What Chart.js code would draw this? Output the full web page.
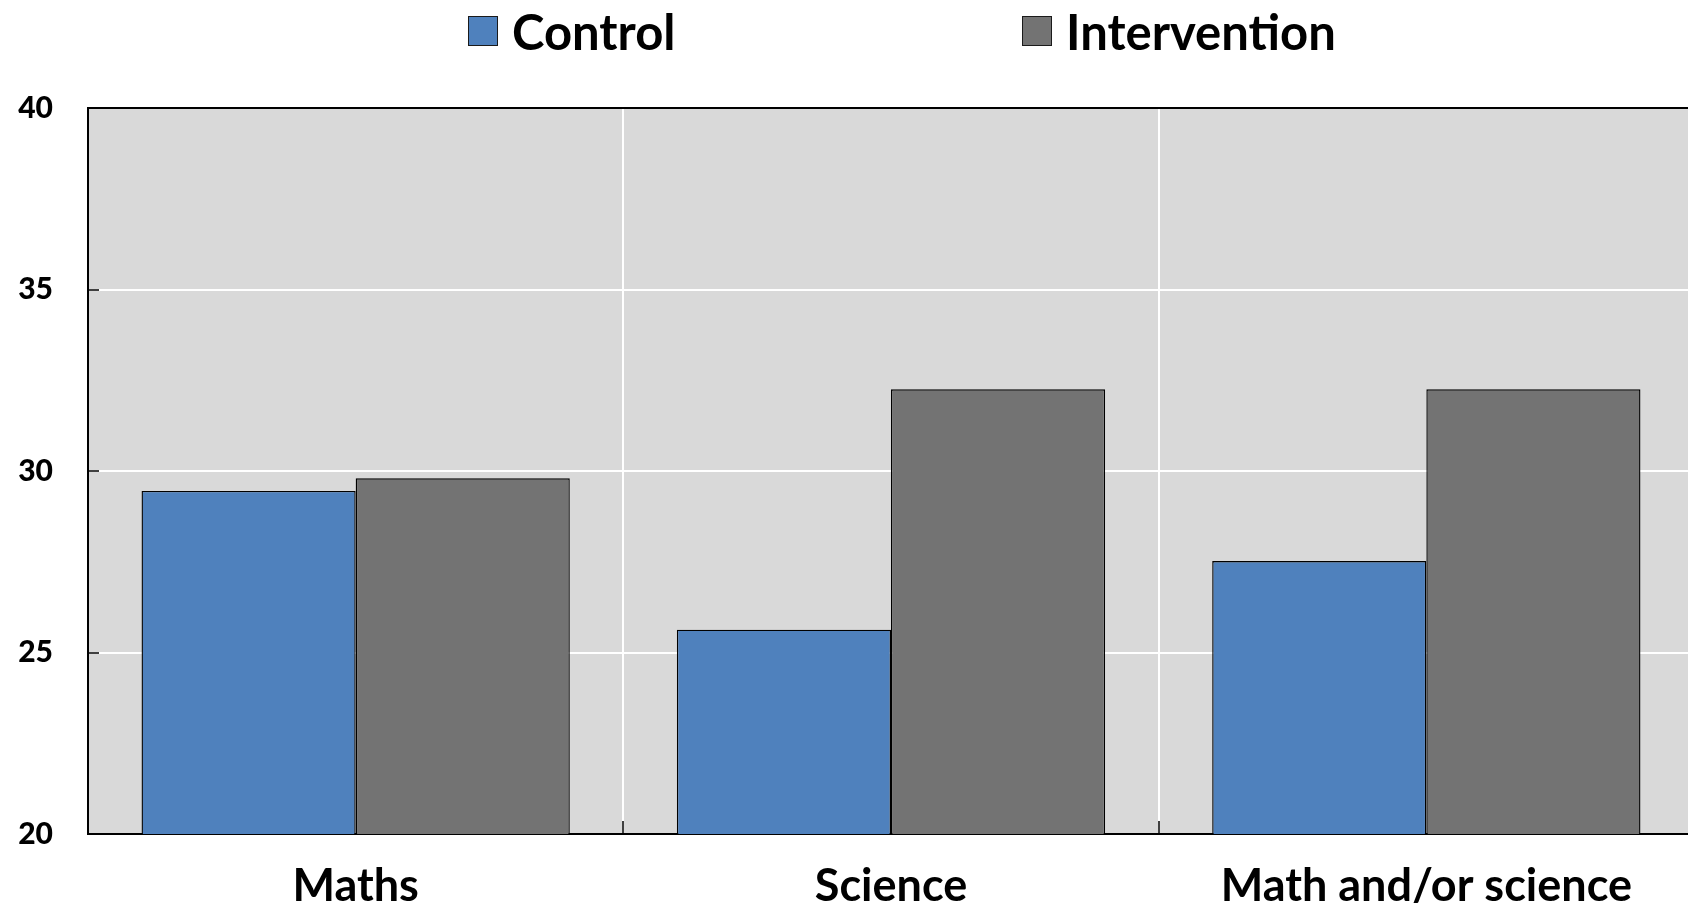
<!DOCTYPE html>
<html>
<head>
<meta charset="utf-8">
<script src="https://cdn.jsdelivr.net/npm/chart.js@4.4.1/dist/chart.umd.min.js"></script>
<style>
  body { margin: 0; overflow: hidden; background: #fff; }
  #wrap { position: relative; width: 1700px; height: 903px; }
  #legend .item { position: absolute; top: 2px; display: flex; align-items: center; font: bold 49px Lato, sans-serif; white-space: nowrap; color: #000; }
  #legend .box { width: 28px; height: 28px; border: 1px solid #1a1a1a; margin-right: 14px; }
</style>
</head>
<body>
<div id="wrap">
  <canvas id="chart" width="1700" height="903"></canvas>
  <div id="legend"></div>
</div>
<script>
// data
const categories = ["Maths", "Science", "Math and/or science"];
const seriesNames = ["Control", "Intervention"];
const controlValues = [29.45, 25.63, 27.52];
const interventionValues = [29.8, 32.25, 32.25];
const yMin = 20;
const yMax = 40;
const yStep = 5;

const colors = ["#4F81BD", "#737373"];
const plotBg = "#D9D9D9";

// grey plot background behind the bars
const plotBackground = {
    id: "plotBackground",
    beforeDraw(chart) {
        const { ctx, chartArea } = chart;
        ctx.save();
        ctx.fillStyle = plotBg;
        ctx.fillRect(chartArea.left, chartArea.top, chartArea.right - chartArea.left, chartArea.bottom - chartArea.top);
        ctx.restore();
    }
};

const chart = new Chart(document.getElementById("chart"), {
    type: "bar",
    data: {
        labels: categories,
        datasets: [
            { label: seriesNames[0], data: controlValues, backgroundColor: colors[0] },
            { label: seriesNames[1], data: interventionValues, backgroundColor: colors[1] }
        ]
    },
    options: {
        responsive: false,
        animation: false,
        layout: { padding: { top: 108, right: 6, left: 0, bottom: 0 } },
        datasets: {
            bar: {
                categoryPercentage: 0.8,
                barPercentage: 1.0,
                borderColor: "#000",
                borderWidth: 1.4,
                borderSkipped: false
            }
        },
        plugins: {
            legend: { display: false },
            tooltip: { enabled: false }
        },
        scales: {
            x: {
                offset: true,
                grid: {
                    offset: true,
                    color: "#fff",
                    lineWidth: 2,
                    drawTicks: true,
                    tickLength: -13,
                    tickColor: "#000",
                    tickWidth: 1.5
                },
                border: { color: "#000", width: 2 },
                ticks: {
                    color: "#000",
                    font: { family: "Lato", weight: "bold", size: 45 },
                    padding: 38
                },
                afterFit(scale) { scale.height = 69; }
            },
            y: {
                min: yMin,
                max: yMax,
                grid: {
                    color: (c) => (c.tick && c.tick.value === yMax ? "#000" : "#fff"),
                    lineWidth: 2,
                    drawTicks: true,
                    tickLength: -11,
                    tickColor: "#000",
                    tickWidth: 1.5
                },
                border: { color: "#000", width: 2 },
                ticks: {
                    stepSize: yStep,
                    color: "#000",
                    font: { family: "Lato", weight: "900", size: 30 },
                    padding: 46
                },
                afterFit(scale) { scale.width = 88; }
            }
        }
    },
    plugins: [plotBackground]
});

// html legend built from the chart datasets
const legendLefts = [468, 1022];
const legendEl = document.getElementById("legend");
chart.data.datasets.forEach((ds, i) => {
    const item = document.createElement("div");
    item.className = "item";
    item.style.left = legendLefts[i] + "px";
    const box = document.createElement("span");
    box.className = "box";
    box.style.background = ds.backgroundColor;
    const text = document.createElement("span");
    text.textContent = ds.label;
    item.appendChild(box);
    item.appendChild(text);
    legendEl.appendChild(item);
});
</script>
</body>
</html>
